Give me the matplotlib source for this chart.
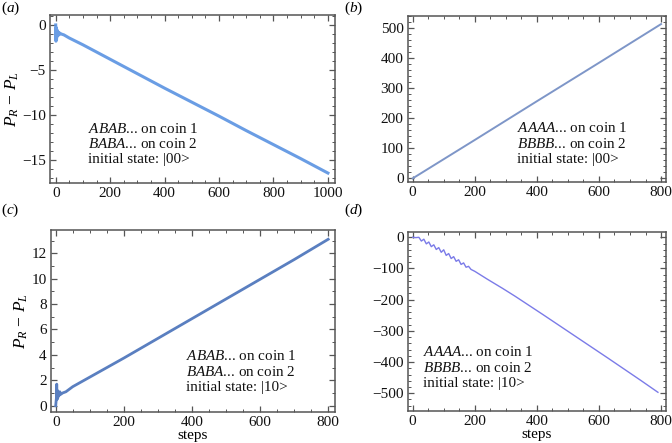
import matplotlib
matplotlib.use("Agg")
import matplotlib.pyplot as plt
from matplotlib.ticker import MultipleLocator

plt.rcParams['font.family'] = ['Liberation Serif', 'DejaVu Serif']
plt.rcParams['mathtext.fontset'] = 'custom'
plt.rcParams['mathtext.rm'] = 'Liberation Serif'
plt.rcParams['mathtext.it'] = 'Liberation Serif:italic'
plt.rcParams['axes.unicode_minus'] = True

# ---- data ----
steps_a = [0, 1, 2, 3, 4, 5, 6, 8, 10, 12, 15, 20, 30, 50, 100, 150, 200, 300, 400, 500, 600, 700, 800, 900, 1000]
vals_a = [0.0, -1.8, -0.3, -1.6, -0.5, -1.3, -0.7, -1.1, -0.8, -1.1, -0.9, -1.0, -1.1, -1.45, -2.2, -3.0, -3.8, -5.4, -7.0, -8.55, -10.1, -11.7, -13.25, -14.8, -16.4]

steps_b = [0, 200, 400, 600, 800]
vals_b = [0, 128, 257, 385, 514]

steps_c = [0, 1, 2, 3, 4, 5, 6, 8, 10, 12, 15, 20, 30, 50, 100, 150, 200, 300, 400, 500, 600, 700, 800]
vals_c = [0.0, 0.3, 0.6, 1.7, 0.5, 1.2, 0.6, 1.0, 0.8, 1.1, 0.9, 1.0, 1.1, 1.5, 2.25, 3.0, 3.75, 5.3, 6.85, 8.4, 9.95, 11.5, 13.1]

steps_d = [0, 10, 20, 28, 36, 44, 52, 60, 68, 76, 84, 92, 100, 108, 116, 124, 132, 140, 148, 156, 164,
           172, 180, 188, 200, 240, 290, 330, 420, 525, 630, 735, 790]
vals_d = [0, -1, 0, -12, -6, -21, -15, -30, -24, -39, -33, -48, -40, -58, -52, -68, -62, -77, -72, -87, -82,
          -96, -93, -103, -109, -134, -164, -189, -248, -318, -388, -459, -497]

notes = [
    [r'$\it{ABAB}$... on coin 1', r'$\it{BABA}$... on coin 2', 'initial state: |00>'],
    [r'$\it{AAAA}$... on coin 1', r'$\it{BBBB}$... on coin 2', 'initial state: |00>'],
    [r'$\it{ABAB}$... on coin 1', r'$\it{BABA}$... on coin 2', 'initial state: |10>'],
    [r'$\it{AAAA}$... on coin 1', r'$\it{BBBB}$... on coin 2', 'initial state: |10>'],
]

W, H = 672, 443
fig = plt.figure(figsize=(W / 100, H / 100), dpi=100)

def rect(l, r, t, b):
    return [l / W, 1 - b / H, (r - l) / W, (b - t) / H]

axa = fig.add_axes(rect(50, 335, 15, 183))
axb = fig.add_axes(rect(407.7, 666, 15.7, 181.7))
axc = fig.add_axes(rect(50.7, 335, 230, 411.7))
axd = fig.add_axes(rect(407.7, 666, 231.7, 410.7))

axa.plot(steps_a, vals_a, color='#5a93e2', lw=2.2, alpha=0.9)
axb.plot(steps_b, vals_b, color='#7e96c8', lw=1.4)
axc.plot(steps_c, vals_c, color='#5a7fc0', lw=2.0)
axd.plot(steps_d, vals_d, color='#7b7be8', lw=1.0)

axa.set_xlim(-21, 1026); axa.set_ylim(-17.5, 1.1)
axb.set_xlim(-16, 816); axb.set_ylim(-11, 542)
axc.set_xlim(-14.7, 820); axc.set_ylim(-0.47, 13.83)
axd.set_xlim(-16, 816); axd.set_ylim(-556, 18)

axa.xaxis.set_major_locator(MultipleLocator(200)); axa.xaxis.set_minor_locator(MultipleLocator(50))
axa.yaxis.set_major_locator(MultipleLocator(5)); axa.yaxis.set_minor_locator(MultipleLocator(1))
axb.xaxis.set_major_locator(MultipleLocator(200)); axb.xaxis.set_minor_locator(MultipleLocator(50))
axb.yaxis.set_major_locator(MultipleLocator(100)); axb.yaxis.set_minor_locator(MultipleLocator(20))
axc.xaxis.set_major_locator(MultipleLocator(200)); axc.xaxis.set_minor_locator(MultipleLocator(50))
axc.yaxis.set_major_locator(MultipleLocator(2)); axc.yaxis.set_minor_locator(MultipleLocator(1))
axd.xaxis.set_major_locator(MultipleLocator(200)); axd.xaxis.set_minor_locator(MultipleLocator(50))
axd.yaxis.set_major_locator(MultipleLocator(100)); axd.yaxis.set_minor_locator(MultipleLocator(20))

for ax in (axa, axb, axc, axd):
    for s in ax.spines.values():
        s.set_color('#555555')
        s.set_linewidth(1.1)
    ax.tick_params(which='both', direction='in', top=True, right=True, color='#555555',
                   labelsize=11, labelcolor='#111111', pad=3)
    ax.tick_params(which='major', length=4, width=0.9)
    ax.tick_params(which='minor', length=2.2, width=0.7)

ylab = r'$P_R$ − $P_L$'
axa.set_ylabel(ylab, fontsize=12.5, labelpad=1)
axc.set_ylabel(ylab, fontsize=12.5, labelpad=1)
axc.set_xlabel('steps', fontsize=11, labelpad=0)
axd.set_xlabel('steps', fontsize=11, labelpad=0)

# panel labels
for (x, y, lab) in [(1, 8, 'a'), (344, 8, 'b'), (1, 210, 'c'), (344, 210, 'd')]:
    fig.text(x / W, 1 - y / H, r'(' + r'$\it{' + lab + '}$' + ')', fontsize=11, va='center', ha='left')

# annotations (figure pixel positions of first-line centres)
note_pos = [(87.7, 129), (517, 128), (185.7, 356), (423, 352)]
for (x, y), lines in zip(note_pos, notes):
    for i, line in enumerate(lines):
        fig.text(x / W, 1 - (y + i * 15.5) / H, line, fontsize=10.9, va='center', ha='left', color='#111111')

fig.savefig('out.png', dpi=100)
